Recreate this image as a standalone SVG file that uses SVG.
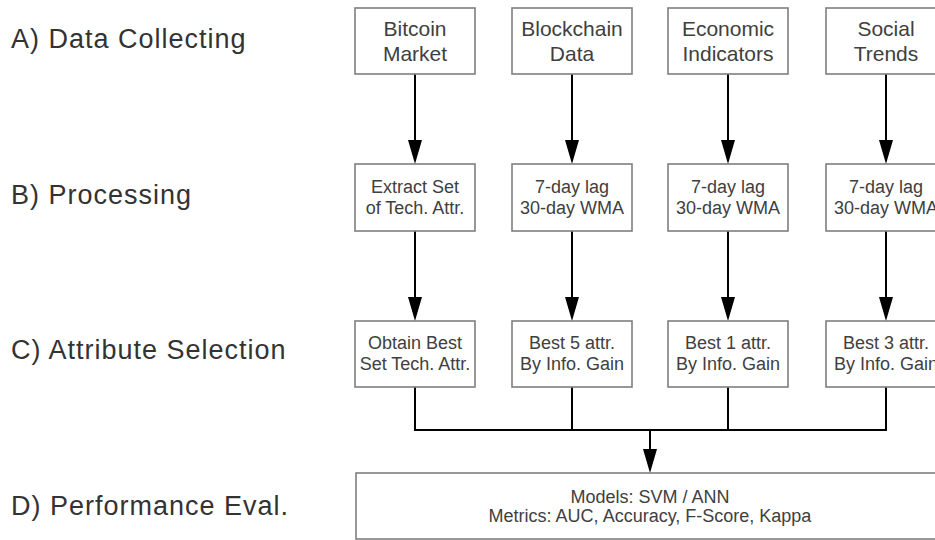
<svg xmlns="http://www.w3.org/2000/svg" width="935" height="540" viewBox="0 0 935 540">
<style>
.lbl{font-family:"Liberation Sans",Arial,sans-serif;font-size:27px;fill:#333;letter-spacing:1px}
.box{fill:#fff;stroke:#7f7f7f;stroke-width:1.6}
.t1{font-family:"Liberation Sans",Arial,sans-serif;font-size:21px;fill:#404040;text-anchor:middle}
.t2{font-family:"Liberation Sans",Arial,sans-serif;font-size:18px;fill:#404040;text-anchor:middle}
.edge{fill:none;stroke:#000;stroke-width:2}
</style>
<defs>
<marker id="arr" viewBox="0 0 24 14" refX="12" refY="7" markerWidth="24" markerHeight="14" markerUnits="userSpaceOnUse" orient="auto">
<path d="M0,0 L24,7 L0,14 z" fill="#000"/>
</marker>
</defs>
<rect width="935" height="540" fill="#fff"/>
<g id="labels">
<text class="lbl" x="11" y="48">A) Data Collecting</text>
<text class="lbl" x="11" y="203.5">B) Processing</text>
<text class="lbl" x="11" y="359">C) Attribute Selection</text>
<text class="lbl" x="11" y="515">D) Performance Eval.</text>
</g>
<g id="connectors">
<path class="edge" marker-end="url(#arr)" d="M415,74 V152"/>
<path class="edge" marker-end="url(#arr)" d="M572,74 V152"/>
<path class="edge" marker-end="url(#arr)" d="M728,74 V152"/>
<path class="edge" marker-end="url(#arr)" d="M886,74 V152"/>
<path class="edge" marker-end="url(#arr)" d="M415,231 V309"/>
<path class="edge" marker-end="url(#arr)" d="M572,231 V309"/>
<path class="edge" marker-end="url(#arr)" d="M728,231 V309"/>
<path class="edge" marker-end="url(#arr)" d="M886,231 V309"/>
<path class="edge" d="M415,387 V430 M572,387 V430 M728,387 V430 M886,387 V430 M414,430 H887"/>
<path class="edge" marker-end="url(#arr)" d="M650,430 V461"/>
</g>
<g id="bitcoin-market"><rect class="box" x="355" y="8" width="120" height="66"/><text class="t1" x="415" y="36">Bitcoin</text><text class="t1" x="415" y="61">Market</text></g>
<g id="blockchain-data"><rect class="box" x="512" y="8" width="120" height="66"/><text class="t1" x="572" y="36">Blockchain</text><text class="t1" x="572" y="61">Data</text></g>
<g id="economic-indicators"><rect class="box" x="668" y="8" width="120" height="66"/><text class="t1" x="728" y="36">Economic</text><text class="t1" x="728" y="61">Indicators</text></g>
<g id="social-trends"><rect class="box" x="826" y="8" width="120" height="66"/><text class="t1" x="886" y="36">Social</text><text class="t1" x="886" y="61">Trends</text></g>
<g id="proc-bitcoin"><rect class="box" x="355" y="164" width="120" height="67"/><text class="t2" x="415" y="193">Extract Set</text><text class="t2" x="415" y="214">of Tech. Attr.</text></g>
<g id="proc-blockchain"><rect class="box" x="512" y="164" width="120" height="67"/><text class="t2" x="572" y="193">7-day lag</text><text class="t2" x="572" y="214">30-day WMA</text></g>
<g id="proc-economic"><rect class="box" x="668" y="164" width="120" height="67"/><text class="t2" x="728" y="193">7-day lag</text><text class="t2" x="728" y="214">30-day WMA</text></g>
<g id="proc-social"><rect class="box" x="826" y="164" width="120" height="67"/><text class="t2" x="886" y="193">7-day lag</text><text class="t2" x="886" y="214">30-day WMA</text></g>
<g id="sel-bitcoin"><rect class="box" x="355" y="321" width="120" height="66"/><text class="t2" x="415" y="349">Obtain Best</text><text class="t2" x="415" y="370">Set Tech. Attr.</text></g>
<g id="sel-blockchain"><rect class="box" x="512" y="321" width="120" height="66"/><text class="t2" x="572" y="349">Best 5 attr.</text><text class="t2" x="572" y="370">By Info. Gain</text></g>
<g id="sel-economic"><rect class="box" x="668" y="321" width="120" height="66"/><text class="t2" x="728" y="349">Best 1 attr.</text><text class="t2" x="728" y="370">By Info. Gain</text></g>
<g id="sel-social"><rect class="box" x="826" y="321" width="120" height="66"/><text class="t2" x="886" y="349">Best 3 attr.</text><text class="t2" x="886" y="370">By Info. Gain</text></g>
<g id="performance"><rect class="box" x="356" y="473" width="588" height="66"/><text class="t2" x="650" y="503">Models: SVM / ANN</text><text class="t2" x="650" y="522">Metrics: AUC, Accuracy, F-Score, Kappa</text></g>
</svg>
